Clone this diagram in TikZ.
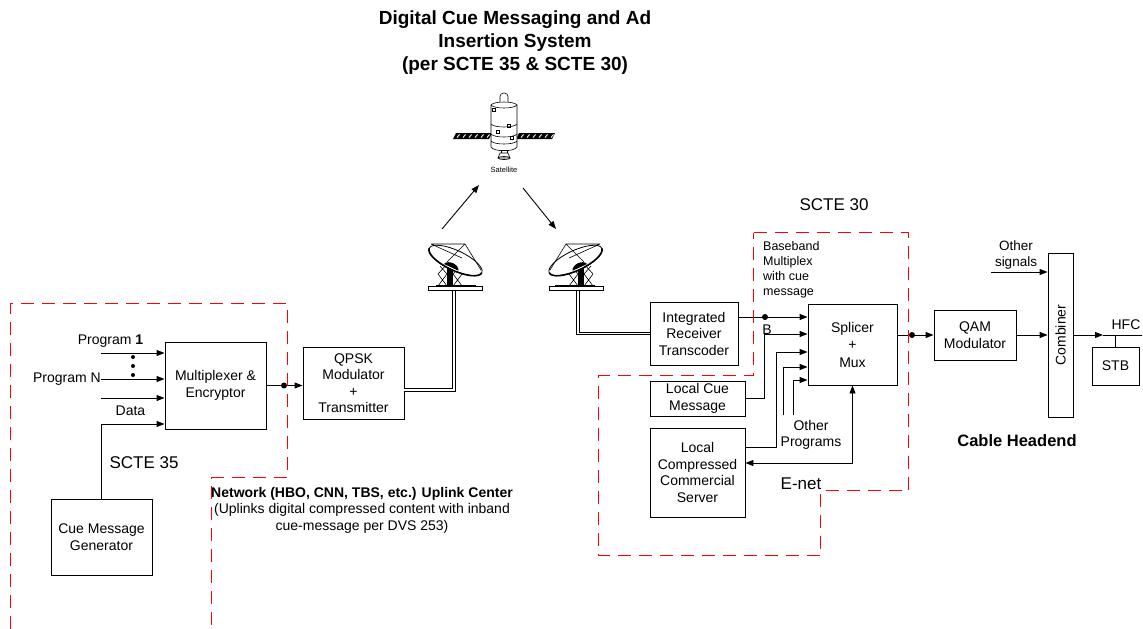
\documentclass[tikz,border=0pt]{standalone}
\usepackage{fontspec}
\setmainfont{Liberation Sans}
\usetikzlibrary{arrows.meta}
\definecolor{zonered}{RGB}{255,0,0}
\begin{document}
\begin{tikzpicture}[x=1pt,y=-1pt,
  blk/.style={draw, line width=0.9pt, inner sep=0pt, align=center, font=\fontsize{14}{16.5}\selectfont},
  lbl/.style={inner sep=0pt, align=center, font=\fontsize{14}{16.5}\selectfont},
  big/.style={inner sep=0pt, align=center, font=\fontsize{17}{20}\selectfont},
  ln/.style={draw, line width=0.9pt},
  arr/.style={ln, -{Triangle[length=8pt,width=6pt]}},
  arrb/.style={ln, {Triangle[length=8pt,width=6pt]}-{Triangle[length=8pt,width=6pt]}},
  dbl/.style={draw, line width=0.8pt, double=white, double distance=1.8pt},
  zone/.style={draw=zonered, line width=1.5pt, dash pattern=on 13pt off 8pt},
  dotn/.style={circle, fill, inner sep=0pt, minimum size=6pt},
  sm/.style={line width=0.6pt},
]
\useasboundingbox (0,0) rectangle (1143,629);

% ---------- title ----------
\node[inner sep=0pt, align=center, font=\fontsize{19}{23}\selectfont\bfseries] (title) at (515,43)
  {Digital Cue Messaging and Ad\\Insertion System\\(per SCTE 35 \& SCTE 30)};

% ---------- uplink center ----------
\node[blk, minimum width=101pt, minimum height=87pt] (mux) at (215.5,385.5) {Multiplexer \&\\Encryptor};
\node[blk, minimum width=101pt, minimum height=76pt] (cmg) at (101.5,537) {Cue Message\\Generator};
\node[blk, minimum width=101pt, minimum height=72pt] (qpsk) at (353.5,383) {QPSK\\Modulator\\+\\Transmitter};

\node[lbl] (p1lbl) at (110.5,341) {Program \textbf{1}};
\node[lbl, anchor=east] (pN) at (101,379) {Program N};
\node[lbl] (datal) at (130.5,411) {Data};
\node[big] (scte35) at (144,463) {SCTE 35};

\coordinate (p1) at (101,353);
\coordinate (p3) at (101,398);
\coordinate (dj) at (101.5,424);
\draw[arr] (p1) -- (p1 -| mux.west);
\draw[arr] (pN.east) -- (pN.east -| mux.west);
\draw[arr] (p3) -- (p3 -| mux.west);
\draw[arr] (cmg.north) -- (dj) -- (dj -| mux.west);
\foreach \yy in {357,366,375} \fill (133,\yy) circle (2);

\draw[arr] (mux.east) -- (mux.east -| qpsk.west);

\node[lbl, align=center] (netw) at (362,510)
  {\textbf{Network (HBO, CNN, TBS, etc.) Uplink Center}\\(Uplinks digital compressed content with inband\\cue-message per DVS 253)};

% ---------- satellite ----------
\begin{scope}[sm]
  % solar panels
  \fill (453,139) -- (456,133) -- (492,133) -- (489,139) -- cycle;
  \fill (516,139) -- (519,133) -- (555,133) -- (552,139) -- cycle;
  \foreach \xx in {457,463,469,475,481,487,521,527,533,539,545,551}
    \draw[white, line width=0.9pt] (\xx,137.5) -- (\xx+2.5,134.5);
  % top antenna
  \draw[fill=white, rounded corners=3.5pt] (500,105) -- (500,93) -- (508,93) -- (508,105);
  % body
  \draw[fill=white] (491,105) -- (491,147) .. controls (494,152) and (514,152) .. (517,147) -- (517,105) .. controls (514,101) and (494,101) .. (491,105) -- cycle;
  \draw (491,105) .. controls (494,109) and (514,109) .. (517,105);
  \draw (491,124) .. controls (494,128) and (514,128) .. (517,124);
  \draw (491,134) .. controls (494,138) and (514,138) .. (517,134);
  \draw (491,141) .. controls (494,145) and (514,145) .. (517,141);
  % windows
  \foreach \wx/\wy in {494/110,509/126,498/132,512/138}
    \draw (\wx-1.5,\wy-1.5) rectangle (\wx+1.5,\wy+1.5);
  % nozzle
  \draw[fill=white] (501,150) rectangle (507,153);
  \draw[fill=white] (500,153) -- (508,153) -- (510,158) -- (498,158) -- cycle;
  \draw (504,158) ellipse [x radius=6, y radius=1.5];
\end{scope}
\node[inner sep=0pt, font=\fontsize{7.5}{9}\selectfont] (satl) at (504,170) {Satellite};

\coordinate (upA) at (442,229);
\coordinate (upB) at (479,185);
\coordinate (dnA) at (523,188);
\coordinate (dnB) at (556,229);
\draw[arr] (upA) -- (upB);
\draw[arr] (dnA) -- (dnB);

% ---------- dishes ----------
\foreach \dx/\ds in {455/1,576/-1}{
\begin{scope}[shift={(\dx,288)}, xscale=\ds, sm]
  % trusses
  \draw (-17,-2) -- (-8,-14) (-8,-2) -- (-17,-14) (-17,-14) -- (-8,-24) (-8,-14) -- (-15,-22);
  \draw (7,-2) -- (-2,-14) (-2,-2) -- (7,-14) (7,-14) -- (-2,-24) (-2,-14) -- (5,-22);
  % pole
  \fill (-8,-27) rectangle (-2,-2);
  % dish
  \begin{scope}[shift={(0.5,-27.5)}, rotate=-25]
    \draw[fill=white, line width=0.8pt] (0,0) ellipse [x radius=29, y radius=10];
    \draw[line width=1.6pt] (-29,0) arc[start angle=180, end angle=0, x radius=29, y radius=10];
    \fill (-9,8) .. controls (-7,2) and (5,2) .. (7,8) -- cycle;
  \end{scope}
  % feed struts
  \draw (-24,-44) -- (10,-44) (10,-44) -- (26,-18) (10,-44) -- (-8,-26) (-24,-44) -- (7,-30);
  % platform
  \draw[fill=white] (-27,-2) rectangle (27,2);
  \fill (-19,-3.5) rectangle (21,-1.5);
\end{scope}}
\coordinate (ldish) at (454,291);
\coordinate (rdish) at (578,291);
\draw[dbl] ([yshift=-7pt]qpsk.east) -| (ldish);

% ---------- SCTE 30 headend ----------
\node[blk, minimum width=88pt, minimum height=63pt] (irt) at (694,333.5) {Integrated\\Receiver\\Transcoder};
\node[blk, minimum width=89pt, minimum height=81pt, font=\fontsize{14}{17.5}\selectfont] (spl) at (852.5,344.5) {Splicer\\+\\Mux};
\node[blk, minimum width=95pt, minimum height=35pt] (lcm) at (697.5,398.5) {Local Cue\\Message};
\node[blk, minimum width=95pt, minimum height=89pt] (lccs) at (697.5,472.5) {Local\\Compressed\\Commercial\\Server};

\draw[dbl] (rdish) |- (irt.west);

\node[big] (scte30) at (834,205) {SCTE 30};
\node[inner sep=0pt, anchor=west, align=left, font=\fontsize{12.5}{15}\selectfont] (bb) at (763,269.5)
  {Baseband\\Multiplex\\with cue\\message};
\node[lbl] (blab) at (767,330) {B};
\node[lbl] (othp) at (811,435) {Other\\Programs};
\node[big] (enet) at (801,484) {E-net};

\coordinate (i1) at (738,317);
\coordinate (b2) at (764,334);
\coordinate (b3) at (776,352);
\coordinate (o1) at (783,415);
\coordinate (b4) at (783,367);
\coordinate (o2) at (793,415);
\coordinate (b5) at (793,380);
\coordinate (en) at (852.5,463);
\draw[arr] (i1) -- (i1 -| spl.west);
\draw[arr] (lcm.east) -| (b2) -- (b2 -| spl.west);
\draw[arr] ([yshift=25.5pt]lccs.east) -| (b3) -- (b3 -| spl.west);
\draw[arr] (o1) -- (b4) -- (b4 -| spl.west);
\draw[arr] (o2) -- (b5) -- (b5 -| spl.west);
\draw[arrb] (lccs.east |- en) -- (en) -- (spl.south);

% ---------- cable headend ----------
\node[blk, minimum width=82pt, minimum height=50pt] (qam) at (975,335) {QAM\\Modulator};
\node[draw, line width=0.9pt, minimum width=25pt, minimum height=164pt, inner sep=0pt] (comb) at (1060.5,335) {};
\node[lbl, rotate=90] (combl) at (comb.center) {Combiner};
\node[blk, minimum width=47pt, minimum height=38pt] (stb) at (1115.5,366) {STB};

\draw[arr] ([yshift=9.5pt]spl.east) -- (qam.west);
\draw[arr] (qam.east) -- (qam.east -| comb.west);

\node[lbl, font=\fontsize{13.5}{16}\selectfont] (osig) at (1016,255) {Other\\signals};
\coordinate (os) at (991,272);
\draw[arr] (os) -- (os -| comb.west);

\coordinate (ha) at (1103,335);
\coordinate (hend) at (1142,335);
\draw[arr] (comb.east |- ha) -- (ha);
\draw[ln] (ha) -- (hend);
\draw[ln] (stb.north) -- (stb.north |- hend);
\node[lbl] (hfc) at (1126,325) {HFC};

\node[inner sep=0pt, font=\fontsize{16.5}{20}\selectfont\bfseries] (cab) at (1017,441) {Cable Headend};

% ---------- dashed zones ----------
\draw[zone] (753.5,232.5) -- (908.5,232.5) -- (908.5,490.5) -- (820.5,490.5) -- (820.5,555.5) -- (598.5,555.5) -- (598.5,375.5) -- (753.5,375.5) -- cycle;
\draw[zone] (10.5,629) -- (10.5,303.5) -- (287.5,303.5) -- (287.5,477.5) -- (211.5,477.5) -- (211.5,629);

% junction dots on top of the zone borders
\node[dotn] (d1) at (284,385.5) {};
\node[dotn] (d2) at (765,317) {};
\node[dotn] (d3) at (912,335) {};

\end{tikzpicture}
\end{document}
